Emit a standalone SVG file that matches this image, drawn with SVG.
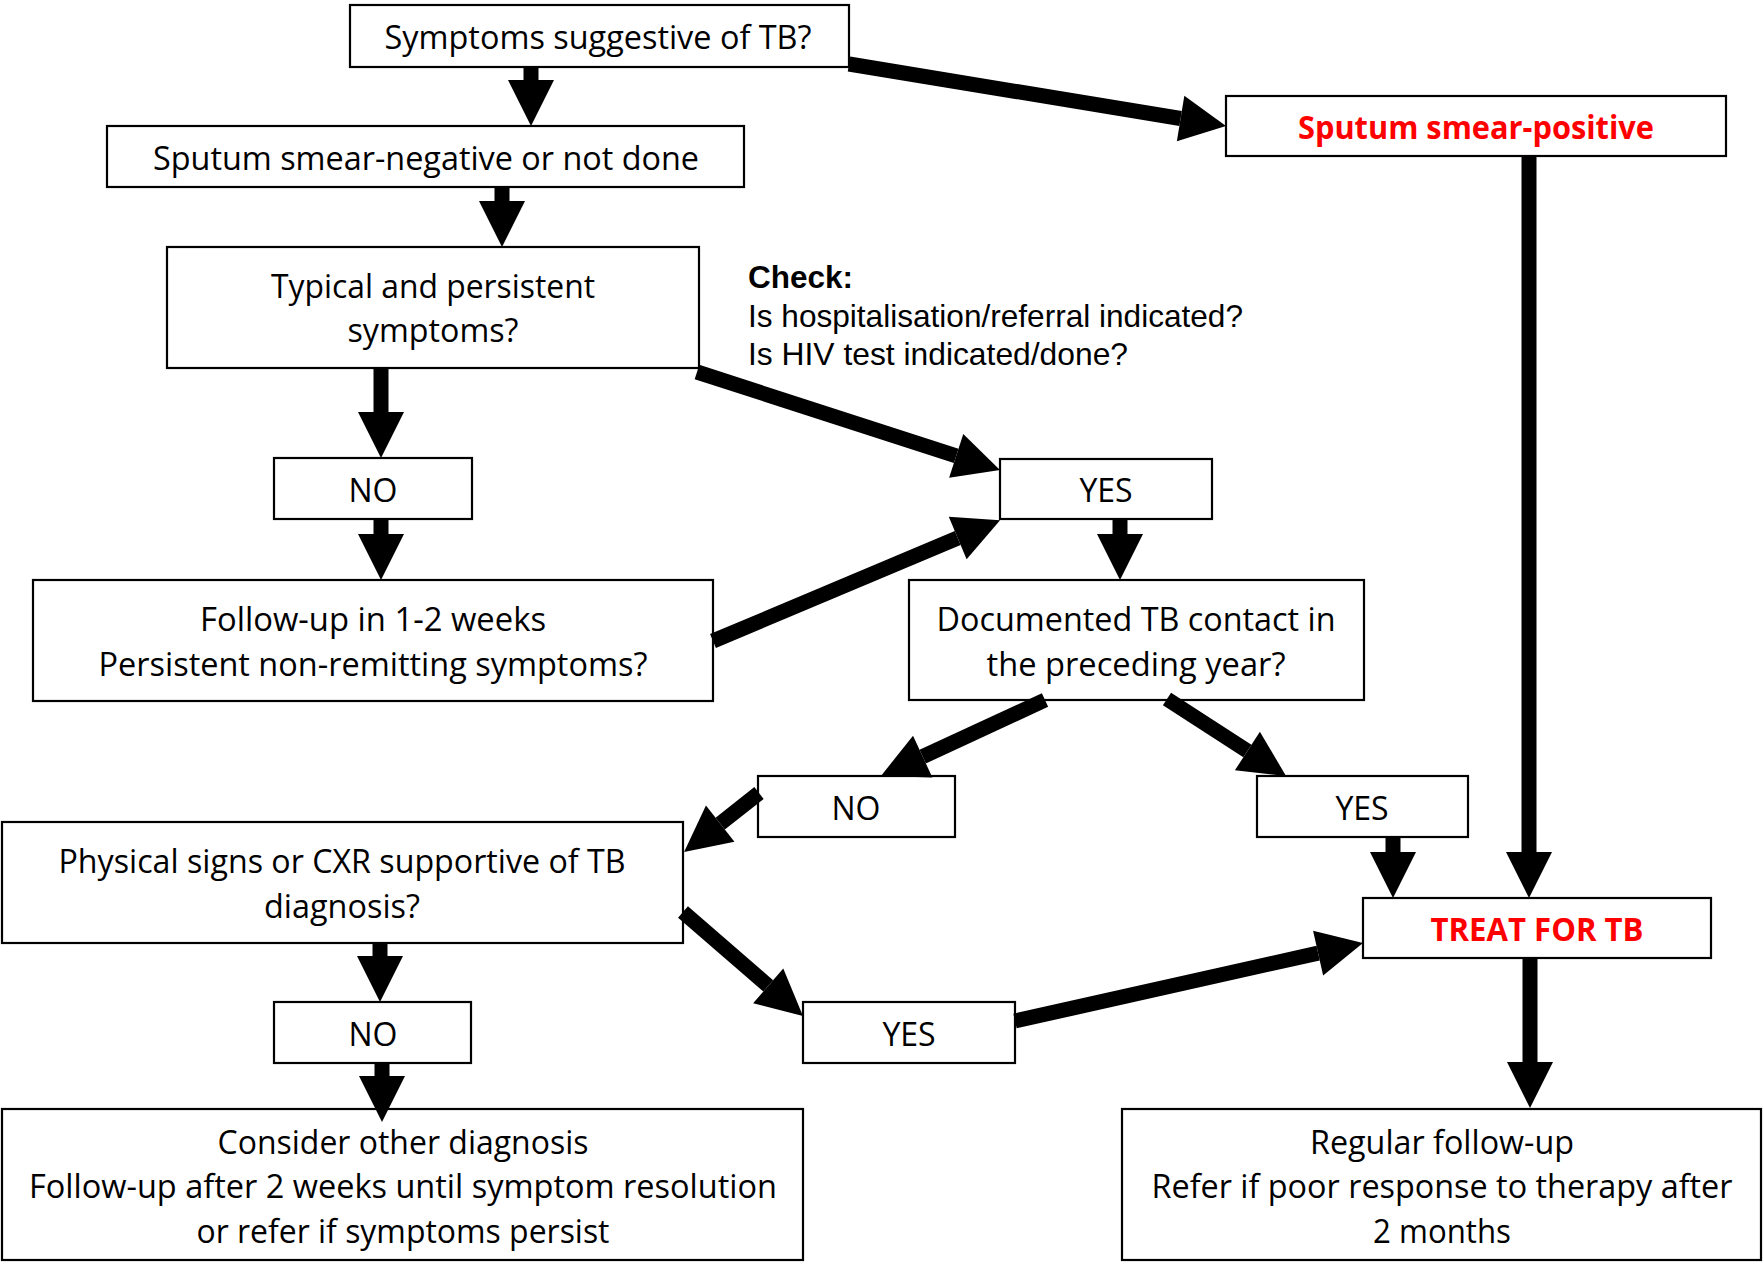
<svg xmlns="http://www.w3.org/2000/svg" width="1764" height="1262" viewBox="0 0 1764 1262">
<defs>
<style>
.box{fill:#fff;stroke:#000;stroke-width:2.2}
.t{font-family:"Open Sans","Noto Sans",sans-serif;font-size:32px;fill:#000;text-anchor:middle}
.r{font-weight:bold;fill:#FF0000}
.chk{font-family:"Liberation Sans",Arial,sans-serif;font-size:31.5px;fill:#000}
.c{stroke:#000;stroke-width:15;fill:none;stroke-linecap:butt;marker-end:url(#ah)}
</style>
<marker id="ah" markerUnits="userSpaceOnUse" markerWidth="48" markerHeight="48" refX="0" refY="23" orient="auto" overflow="visible">
<path d="M0,0 L46,23 L0,46 Z" fill="#000"/>
</marker>
</defs>
<rect width="1764" height="1262" fill="#fff"/>

<g id="n-symptoms"><rect class="box" x="350" y="5" width="499" height="62"/><text class="t" x="598" y="49" textLength="427" lengthAdjust="spacingAndGlyphs">Symptoms suggestive of TB?</text></g>
<g id="n-smearneg"><rect class="box" x="107" y="126" width="637" height="61"/><text class="t" x="426" y="170" textLength="546" lengthAdjust="spacingAndGlyphs">Sputum smear-negative or not done</text></g>
<g id="n-typical"><rect class="box" x="167" y="247" width="532" height="121"/><text class="t" x="433" y="298" textLength="324" lengthAdjust="spacingAndGlyphs">Typical and persistent</text><text class="t" x="433" y="342" textLength="171" lengthAdjust="spacingAndGlyphs">symptoms?</text></g>
<g id="n-check"><text class="chk" x="748" y="288" font-weight="bold">Check:</text><text class="chk" x="748" y="327" textLength="495" lengthAdjust="spacingAndGlyphs">Is hospitalisation/referral indicated?</text><text class="chk" x="748" y="365" textLength="380" lengthAdjust="spacingAndGlyphs">Is HIV test indicated/done?</text></g>
<g id="n-no1"><rect class="box" x="274" y="458" width="198" height="61"/><text class="t" x="373" y="502">NO</text></g>
<g id="n-yes1"><rect class="box" x="1000" y="459" width="212" height="60"/><text class="t" x="1106" y="502">YES</text></g>
<g id="n-followup"><rect class="box" x="33" y="580" width="680" height="121"/><text class="t" x="373" y="631" textLength="346" lengthAdjust="spacingAndGlyphs">Follow-up in 1-2 weeks</text><text class="t" x="373" y="676" textLength="549" lengthAdjust="spacingAndGlyphs">Persistent non-remitting symptoms?</text></g>
<g id="n-documented"><rect class="box" x="909" y="580" width="455" height="120"/><text class="t" x="1136" y="631" textLength="399" lengthAdjust="spacingAndGlyphs">Documented TB contact in</text><text class="t" x="1136" y="676" textLength="299" lengthAdjust="spacingAndGlyphs">the preceding year?</text></g>
<g id="n-no2"><rect class="box" x="758" y="776" width="197" height="61"/><text class="t" x="856" y="820">NO</text></g>
<g id="n-yes2"><rect class="box" x="1257" y="776" width="211" height="61"/><text class="t" x="1362" y="820">YES</text></g>
<g id="n-physical"><rect class="box" x="2" y="822" width="681" height="121"/><text class="t" x="342" y="873" textLength="567" lengthAdjust="spacingAndGlyphs">Physical signs or CXR supportive of TB</text><text class="t" x="342" y="918" textLength="156" lengthAdjust="spacingAndGlyphs">diagnosis?</text></g>
<g id="n-no3"><rect class="box" x="274" y="1002" width="197" height="61"/><text class="t" x="373" y="1046">NO</text></g>
<g id="n-yes3"><rect class="box" x="803" y="1002" width="212" height="61"/><text class="t" x="909" y="1046">YES</text></g>
<g id="n-treat"><rect class="box" x="1363" y="898" width="348" height="60"/><text class="t r" x="1537" y="941" textLength="213" lengthAdjust="spacingAndGlyphs">TREAT FOR TB</text></g>
<g id="n-smearpos"><rect class="box" x="1226" y="96" width="500" height="60"/><text class="t r" x="1476" y="139" textLength="356" lengthAdjust="spacingAndGlyphs">Sputum smear-positive</text></g>
<g id="n-consider"><rect class="box" x="2" y="1109" width="801" height="151"/><text class="t" x="403" y="1154" textLength="371" lengthAdjust="spacingAndGlyphs">Consider other diagnosis</text><text class="t" x="403" y="1198" textLength="748" lengthAdjust="spacingAndGlyphs">Follow-up after 2 weeks until symptom resolution</text><text class="t" x="403" y="1243" textLength="413" lengthAdjust="spacingAndGlyphs">or refer if symptoms persist</text></g>
<g id="n-regular"><rect class="box" x="1122" y="1109" width="639" height="151"/><text class="t" x="1442" y="1154" textLength="264" lengthAdjust="spacingAndGlyphs">Regular follow-up</text><text class="t" x="1442" y="1198" textLength="581" lengthAdjust="spacingAndGlyphs">Refer if poor response to therapy after</text><text class="t" x="1442" y="1243" textLength="138" lengthAdjust="spacingAndGlyphs">2 months</text></g>

<g id="connectors">
<line class="c" x1="531" y1="67" x2="531" y2="80"/>
<line class="c" x1="502" y1="187" x2="502" y2="201"/>
<line class="c" x1="381" y1="368" x2="381" y2="412"/>
<line class="c" x1="381" y1="519" x2="381" y2="534"/>
<line class="c" x1="697" y1="372" x2="956.2" y2="455.8"/>
<line class="c" x1="713" y1="641" x2="957.7" y2="538"/>
<line class="c" x1="1120" y1="519" x2="1120" y2="534"/>
<line class="c" x1="1045" y1="700" x2="922.7" y2="756.6"/>
<line class="c" x1="1167" y1="699" x2="1247.4" y2="751"/>
<line class="c" x1="759" y1="793" x2="720.2" y2="823.6"/>
<line class="c" x1="1393" y1="837" x2="1393" y2="852"/>
<line class="c" x1="1529" y1="156" x2="1529" y2="852"/>
<line class="c" x1="380" y1="943" x2="380" y2="956"/>
<line class="c" x1="382" y1="1063" x2="382" y2="1076"/>
<line class="c" x1="683" y1="912" x2="768.2" y2="985.9"/>
<line class="c" x1="1015" y1="1021" x2="1318.1" y2="953.1"/>
<line class="c" x1="849" y1="64" x2="1180.6" y2="118.5"/>
<line class="c" x1="1530" y1="958" x2="1530" y2="1062"/>
</g>
</svg>
